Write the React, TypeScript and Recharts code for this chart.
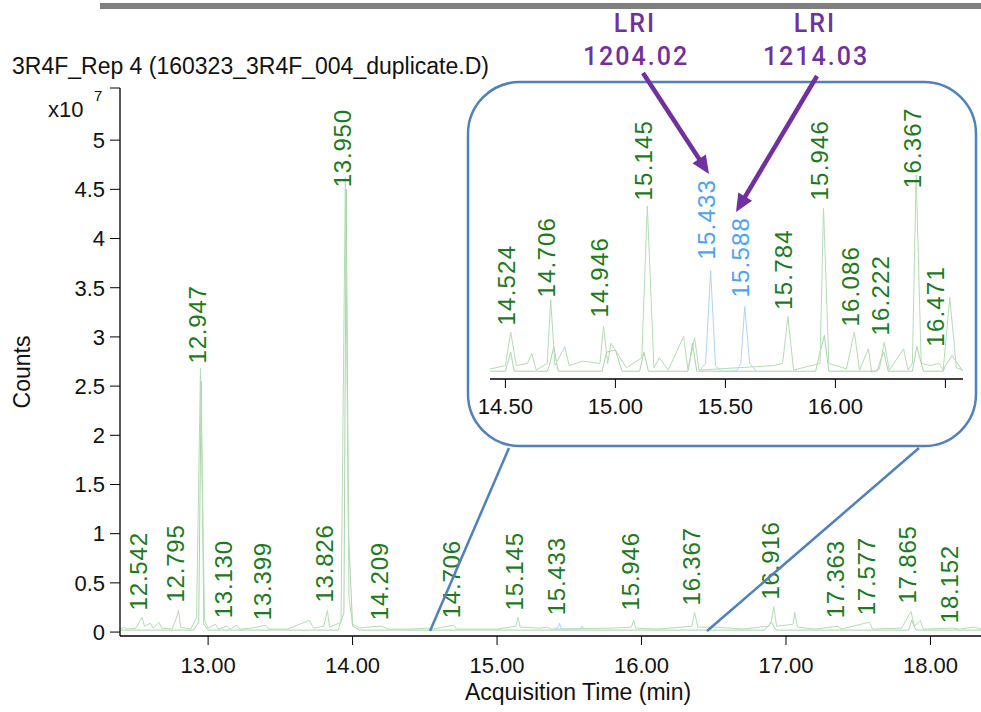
import { ComposedChart, Line, Scatter, XAxis, YAxis } from 'recharts';

type Pt = [number, number];

// main chromatogram, counts in x10^7
const mainTicksX = [13, 14, 15, 16, 17, 18];
const mainTicksY = [0, 0.5, 1, 1.5, 2, 2.5, 3, 3.5, 4, 4.5, 5, 5.53];

const mainGreenA: Pt[] = [
  [12.39, 0.03], [12.42, 0.05], [12.44, 0.03], [12.5, 0.04], [12.53, 0.12], [12.542, 0.15], [12.56, 0.06],
  [12.6, 0.09], [12.62, 0.04], [12.66, 0.1], [12.68, 0.04], [12.75, 0.03], [12.78, 0.14], [12.795, 0.22],
  [12.81, 0.05], [12.88, 0.03], [12.92, 0.15], [12.947, 2.68], [12.975, 0.12], [13.0, 0.04], [13.05, 0.08],
  [13.07, 0.03], [13.13, 0.06], [13.15, 0.03], [13.2, 0.07], [13.22, 0.03], [13.3, 0.04], [13.4, 0.07],
  [13.42, 0.03], [13.55, 0.03], [13.7, 0.12], [13.73, 0.04], [13.8, 0.06], [13.826, 0.22], [13.84, 0.05],
  [13.92, 0.1], [13.95, 4.62], [13.975, 0.35], [14.0, 0.08], [14.05, 0.04], [14.1, 0.05], [14.2, 0.06],
  [14.25, 0.03], [14.4, 0.03], [14.52, 0.04], [14.55, 0.03], [14.7, 0.07], [14.72, 0.03], [15.0, 0.03],
  [15.13, 0.06], [15.145, 0.15], [15.16, 0.05], [15.3, 0.04], [15.35, 0.05], [15.37, 0.03], [15.8, 0.04],
  [15.93, 0.05], [15.946, 0.12], [15.96, 0.04], [16.1, 0.03], [16.2, 0.04], [16.35, 0.06], [16.367, 0.2],
  [16.39, 0.05], [16.52, 0.05], [16.7, 0.03], [16.88, 0.06], [16.9, 0.12], [16.916, 0.26], [16.935, 0.06],
  [17.05, 0.08], [17.06, 0.2], [17.08, 0.05], [17.2, 0.03], [17.363, 0.06], [17.38, 0.03], [17.577, 0.1],
  [17.6, 0.03], [17.8, 0.04], [17.865, 0.21], [17.89, 0.06], [17.93, 0.12], [17.95, 0.03], [18.152, 0.04],
  [18.2, 0.03], [18.3, 0.05], [18.35, 0.03],
];

const mainGreenB: Pt[] = [
  [12.39, 0.02], [12.9, 0.02], [12.935, 0.1], [12.952, 2.55], [12.97, 0.08], [13.0, 0.02], [13.9, 0.02],
  [13.94, 0.2], [13.956, 4.5], [13.972, 1.0], [14.0, 0.06], [14.05, 0.02], [16.85, 0.02], [16.9, 0.1],
  [16.93, 0.02], [17.85, 0.02], [17.87, 0.12], [17.9, 0.02], [18.35, 0.02],
];

const mainBlue: Pt[] = [
  [15.4, 0.03], [15.425, 0.05], [15.433, 0.09], [15.445, 0.03], [15.57, 0.03], [15.588, 0.06], [15.6, 0.03],
];

const mainPeakLabels: [number, number, string][] = [
  [12.542, 0.22, '12.542'], [12.795, 0.3, '12.795'], [12.947, 2.73, '12.947'], [13.13, 0.14, '13.130'],
  [13.399, 0.12, '13.399'], [13.826, 0.3, '13.826'], [13.95, 4.52, '13.950'], [14.209, 0.12, '14.209'],
  [14.706, 0.14, '14.706'], [15.145, 0.22, '15.145'], [15.433, 0.17, '15.433'], [15.946, 0.22, '15.946'],
  [16.367, 0.27, '16.367'], [16.916, 0.33, '16.916'], [17.363, 0.14, '17.363'], [17.577, 0.17, '17.577'],
  [17.865, 0.29, '17.865'], [18.152, 0.09, '18.152'],
];

// zoomed inset 14.43 - 16.58 min
const insetTicksX = [14.5, 15, 15.5, 16, 16.5];

const insetGreenA: Pt[] = [
  [14.43, 0.005], [14.5, 0.008], [14.524, 0.038], [14.55, 0.008], [14.6, 0.01], [14.62, 0.019], [14.64, 0.004],
  [14.69, 0.01], [14.706, 0.067], [14.725, 0.008], [14.77, 0.025], [14.79, 0.008], [14.85, 0.012], [14.93, 0.01],
  [14.946, 0.043], [14.965, 0.01], [14.98, 0.028], [15.05, 0.006], [15.12, 0.015], [15.145, 0.151], [15.175, 0.006],
  [15.2, 0.015], [15.24, 0.004], [15.31, 0.034], [15.33, 0.004], [15.36, 0.033], [15.38, 0.004], [15.72, 0.008],
  [15.76, 0.01], [15.784, 0.052], [15.81, 0.004], [15.93, 0.01], [15.946, 0.149], [15.97, 0.01], [16.05, 0.005],
  [16.086, 0.038], [16.11, 0.004], [16.15, 0.023], [16.165, 0.002], [16.2, 0.005], [16.222, 0.029], [16.245, 0.004],
  [16.31, 0.023], [16.33, 0.004], [16.35, 0.01], [16.367, 0.179], [16.39, 0.01], [16.43, 0.008], [16.471, 0.01],
  [16.49, 0.004], [16.52, 0.069], [16.55, 0.006], [16.58, 0.004],
];

const insetGreenB: Pt[] = [
  [14.43, 0.003], [14.5, 0.003], [14.51, 0.01], [14.524, 0.02], [14.54, 0.003], [14.69, 0.003], [14.7, 0.008],
  [14.72, 0.025], [14.74, 0.003], [14.94, 0.003], [14.96, 0.02], [15.0, 0.022], [15.03, 0.003], [15.11, 0.003],
  [15.13, 0.02], [15.15, 0.003], [15.33, 0.003], [15.35, 0.028], [15.37, 0.003], [15.91, 0.003], [15.93, 0.02],
  [15.95, 0.035], [15.97, 0.003], [16.19, 0.003], [16.2, 0.01], [16.22, 0.02], [16.24, 0.003], [16.35, 0.003],
  [16.37, 0.025], [16.4, 0.003], [16.49, 0.003], [16.5, 0.008], [16.53, 0.017], [16.58, 0.003],
];

const insetBlue: Pt[] = [
  [15.38, 0.003], [15.41, 0.01], [15.433, 0.093], [15.455, 0.008], [15.48, 0.003], [15.55, 0.003],
  [15.57, 0.01], [15.588, 0.061], [15.61, 0.01], [15.64, 0.003],
];

const insetPeakLabels: [number, number, string, boolean][] = [
  [14.524, 0.044, '14.524', false], [14.706, 0.069, '14.706', false], [14.946, 0.051, '14.946', false],
  [15.145, 0.156, '15.145', false], [15.433, 0.103, '15.433', true], [15.588, 0.069, '15.588', true],
  [15.784, 0.058, '15.784', false], [15.946, 0.156, '15.946', false], [16.086, 0.043, '16.086', false],
  [16.222, 0.035, '16.222', false], [16.367, 0.167, '16.367', false], [16.471, 0.025, '16.471', false],
];

const GREEN = '#1c7a1c';
const BLUE = '#4ba3f5';
const TRACE = '#b4dcb4';
const TRACE2 = '#94c994';
const TRACE_BLUE = '#b0d4f6';
const PURPLE = '#7030a0';
const FRAME = '#4f81bd';

const pts = (arr: Pt[]) => arr.map(([t, v]) => ({ t, v }));

const labelShape = (dx: number, spacing: number) => (props: any) => {
  const { cx, cy, payload } = props;
  if (cx == null || cy == null) return <g />;
  return (
    <text
      transform={`translate(${cx + dx},${cy}) rotate(-90)`}
      textAnchor="start"
      dominantBaseline="central"
      fontSize={24}
      letterSpacing={spacing}
      fill={payload.blue ? BLUE : GREEN}
    >
      {payload.text}
    </text>
  );
};

function arrowHead(x1: number, y1: number, x2: number, y2: number) {
  const a = Math.atan2(y2 - y1, x2 - x1);
  const len = 18;
  const w = 8;
  const bx = x2 - len * Math.cos(a);
  const by = y2 - len * Math.sin(a);
  const px = -Math.sin(a) * w;
  const py = Math.cos(a) * w;
  return `${x2},${y2} ${bx + px},${by + py} ${bx - px},${by - py}`;
}

const tickStyle = { fontSize: 22, fill: '#111' };

export default function App() {
  const arrows = [
    [643, 73, 709, 174],
    [817, 76, 736, 212],
  ];
  return (
    <div
      style={{
        position: 'absolute',
        left: 0,
        top: 0,
        width: 981,
        height: 712,
        background: '#fff',
        fontFamily: '"Liberation Sans", Arial, sans-serif',
        overflow: 'hidden',
      }}
    >
      <div style={{ position: 'absolute', left: 0, top: 0 }}>
        <ComposedChart width={981} height={712} margin={{ top: 88, right: 0, bottom: 46, left: 60 }}>
          <XAxis
            type="number"
            dataKey="t"
            domain={[12.39, 18.35]}
            ticks={mainTicksX}
            tickFormatter={(v: number) => v.toFixed(2)}
            allowDataOverflow
            height={30}
            tickSize={9}
            tickMargin={12}
            tick={tickStyle}
            stroke="#000"
            axisLine={{ stroke: '#000', strokeWidth: 1.3 }}
          />
          <YAxis
            type="number"
            domain={[-0.04, 5.53]}
            ticks={mainTicksY}
            tickFormatter={(v: number) => (v > 5.2 ? '' : String(v))}
            allowDataOverflow
            width={60}
            tickSize={10}
            tickMargin={5}
            tick={tickStyle}
            stroke="#000"
            axisLine={{ stroke: '#000', strokeWidth: 1.3 }}
          />
          <Line data={pts(mainGreenB)} dataKey="v" type="linear" stroke={TRACE2} strokeWidth={0.8} dot={false} isAnimationActive={false} />
          <Line data={pts(mainGreenA)} dataKey="v" type="linear" stroke={TRACE} strokeWidth={1} dot={false} isAnimationActive={false} />
          <Line data={pts(mainBlue)} dataKey="v" type="linear" stroke={TRACE_BLUE} strokeWidth={1} dot={false} isAnimationActive={false} />
          <Scatter
            data={mainPeakLabels.map(([t, v, text]) => ({ t, v, text, blue: false }))}
            dataKey="v"
            shape={labelShape(-3, 0.8)}
            isAnimationActive={false}
          />
        </ComposedChart>
      </div>

      <svg width={981} height={712} style={{ position: 'absolute', left: 0, top: 0 }}>
        <rect x={100} y={3} width={881} height={6} fill="#808080" />
        <text x={12} y={74} fontSize={23} fill="#111">3R4F_Rep 4 (160323_3R4F_004_duplicate.D)</text>
        <text x={48} y={117} fontSize={22} fill="#111">x10</text>
        <text x={94} y={101} fontSize={15} fill="#111">7</text>
        <text transform="translate(30,372) rotate(-90)" textAnchor="middle" fontSize={23} fill="#111">Counts</text>
        <text x={578} y={700} textAnchor="middle" fontSize={23} fill="#111">Acquisition Time (min)</text>
        <rect x={468} y={82} width={508} height={364} rx={52} ry={52} fill="none" stroke={FRAME} strokeWidth={2.5} />
        <line x1={430} y1={631} x2={509} y2={448} stroke={FRAME} strokeWidth={2.5} />
        <line x1={707} y1={631} x2={919} y2={448} stroke={FRAME} strokeWidth={2.5} />
      </svg>

      <div style={{ position: 'absolute', left: 0, top: 0 }}>
        <ComposedChart width={981} height={712} margin={{ top: 100, right: 18, bottom: 303, left: 490 }}>
          <XAxis
            type="number"
            dataKey="t"
            domain={[14.43, 16.58]}
            ticks={insetTicksX}
            tickFormatter={(v: number) => (v > 16.2 ? '' : v.toFixed(2))}
            allowDataOverflow
            height={30}
            tickSize={9}
            tickMargin={10}
            tick={tickStyle}
            stroke="#000"
            axisLine={{ stroke: '#000', strokeWidth: 1.3 }}
          />
          <YAxis type="number" domain={[-0.004, 0.246]} allowDataOverflow hide />
          <Line data={pts(insetGreenB)} dataKey="v" type="linear" stroke={TRACE2} strokeWidth={0.8} dot={false} isAnimationActive={false} />
          <Line data={pts(insetGreenA)} dataKey="v" type="linear" stroke={TRACE} strokeWidth={1} dot={false} isAnimationActive={false} />
          <Line data={pts(insetBlue)} dataKey="v" type="linear" stroke={TRACE_BLUE} strokeWidth={1} dot={false} isAnimationActive={false} />
          <Scatter
            data={insetPeakLabels.map(([t, v, text, blue]) => ({ t, v, text, blue }))}
            dataKey="v"
            shape={labelShape(-4, 1.2)}
            isAnimationActive={false}
          />
        </ComposedChart>
      </div>

      <svg width={981} height={712} style={{ position: 'absolute', left: 0, top: 0 }}>
        <g fontFamily="Roboto, 'Noto Sans', sans-serif" fontWeight={500} fontSize={25} fill={PURPLE} textAnchor="middle" letterSpacing={2}>
          <text x={635} y={32}>LRI</text>
          <text x={636} y={65}>1204.02</text>
          <text x={815} y={32}>LRI</text>
          <text x={816} y={65}>1214.03</text>
        </g>
        {arrows.map(([x1, y1, x2, y2], i) => {
          const a = Math.atan2(y2 - y1, x2 - x1);
          return (
            <g key={i}>
              <line x1={x1} y1={y1} x2={x2 - 14 * Math.cos(a)} y2={y2 - 14 * Math.sin(a)} stroke={PURPLE} strokeWidth={4.5} />
              <polygon points={arrowHead(x1, y1, x2, y2)} fill={PURPLE} />
            </g>
          );
        })}
      </svg>
    </div>
  );
}
